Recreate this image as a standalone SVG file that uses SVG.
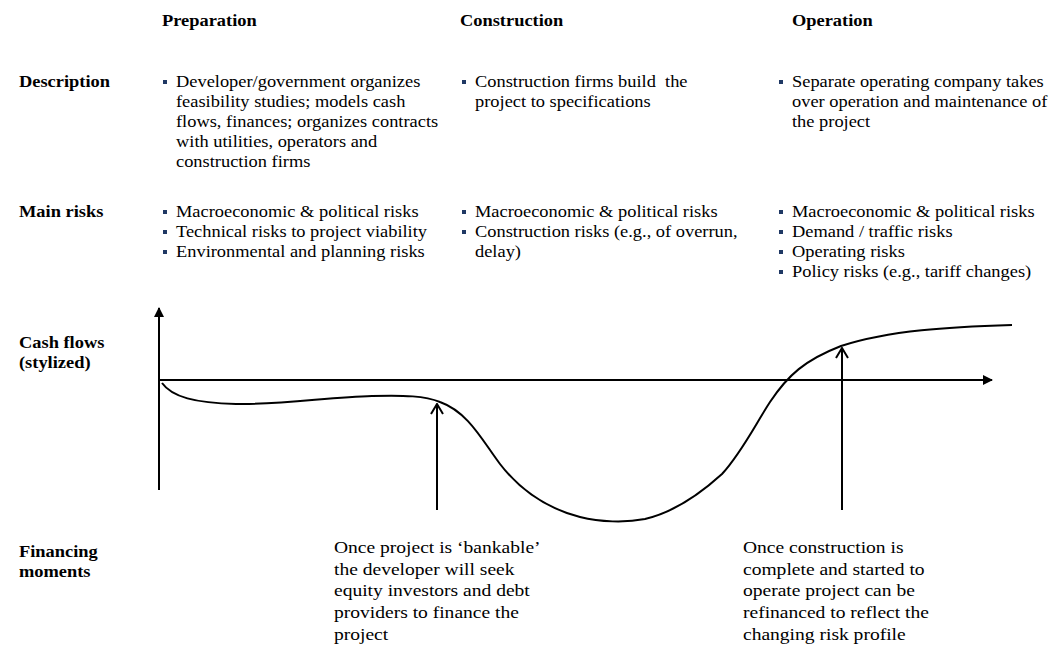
<svg xmlns="http://www.w3.org/2000/svg" width="1060" height="648" viewBox="0 0 1060 648">
<style>
text{font-family:"Liberation Serif","Times New Roman",serif;fill:#000}
.h{font-size:16px;font-weight:bold}
.t{font-size:16px}
.n{font-size:17px}
.bul{fill:#1F3864}
.ln{fill:none;stroke:#000;stroke-width:2}
</style>
<defs>
<marker id="tri" viewBox="0 0 10 10" refX="9" refY="5" markerWidth="5" markerHeight="5" orient="auto" markerUnits="strokeWidth">
<path d="M0,0 L10,5 L0,10 Z" fill="#000"/>
</marker>
<marker id="chev" viewBox="0 0 12 14" refX="11" refY="7" markerWidth="6" markerHeight="7" orient="auto" markerUnits="strokeWidth">
<path d="M1,1 L11,7 L1,13" fill="none" stroke="#000" stroke-width="2"/>
</marker>
</defs>
<rect width="1060" height="648" fill="#fff"/>

<g id="headers">
<text class="h" transform="translate(162,26) scale(1.15,1)">Preparation</text>
<text class="h" transform="translate(460,26) scale(1.15,1)">Construction</text>
<text class="h" transform="translate(792,26) scale(1.15,1)">Operation</text>
</g>

<g id="row-labels">
<text class="h" transform="translate(19,87) scale(1.15,1)">Description</text>
<text class="h" transform="translate(19,217) scale(1.15,1)">Main risks</text>
<text class="h" transform="translate(19,348) scale(1.15,1)"><tspan x="0">Cash flows</tspan><tspan x="0" dy="20">(stylized)</tspan></text>
<text class="h" transform="translate(19,557) scale(1.15,1)"><tspan x="0">Financing</tspan><tspan x="0" dy="20">moments</tspan></text>
</g>

<g id="desc-preparation">
<rect class="bul" x="163" y="80" width="4" height="4"/>
<text class="t" transform="translate(176,87) scale(1.15,1)"><tspan x="0">Developer/government organizes</tspan><tspan x="0" dy="20">feasibility studies; models cash</tspan><tspan x="0" dy="20">flows, finances; organizes contracts</tspan><tspan x="0" dy="20">with utilities, operators and</tspan><tspan x="0" dy="20">construction firms</tspan></text>
</g>
<g id="desc-construction">
<rect class="bul" x="462" y="80" width="4" height="4"/>
<text class="t" transform="translate(475,87) scale(1.15,1)"><tspan x="0" xml:space="preserve">Construction firms build  the</tspan><tspan x="0" dy="20">project to specifications</tspan></text>
</g>
<g id="desc-operation">
<rect class="bul" x="779" y="80" width="4" height="4"/>
<text class="t" transform="translate(792,87) scale(1.15,1)"><tspan x="0">Separate operating company takes</tspan><tspan x="0" dy="20">over operation and maintenance of</tspan><tspan x="0" dy="20">the project</tspan></text>
</g>

<g id="risks-preparation">
<rect class="bul" x="163" y="210" width="4" height="4"/>
<rect class="bul" x="163" y="230" width="4" height="4"/>
<rect class="bul" x="163" y="250" width="4" height="4"/>
<text class="t" transform="translate(176,217) scale(1.15,1)"><tspan x="0">Macroeconomic &amp; political risks</tspan><tspan x="0" dy="20">Technical risks to project viability</tspan><tspan x="0" dy="20">Environmental and planning risks</tspan></text>
</g>
<g id="risks-construction">
<rect class="bul" x="462" y="210" width="4" height="4"/>
<rect class="bul" x="462" y="230" width="4" height="4"/>
<text class="t" transform="translate(475,217) scale(1.15,1)"><tspan x="0">Macroeconomic &amp; political risks</tspan><tspan x="0" dy="20">Construction risks (e.g., of overrun,</tspan><tspan x="0" dy="20">delay)</tspan></text>
</g>
<g id="risks-operation">
<rect class="bul" x="779" y="210" width="4" height="4"/>
<rect class="bul" x="779" y="230" width="4" height="4"/>
<rect class="bul" x="779" y="250" width="4" height="4"/>
<rect class="bul" x="779" y="270" width="4" height="4"/>
<text class="t" transform="translate(792,217) scale(1.15,1)"><tspan x="0">Macroeconomic &amp; political risks</tspan><tspan x="0" dy="20">Demand / traffic risks</tspan><tspan x="0" dy="20">Operating risks</tspan><tspan x="0" dy="20">Policy risks (e.g., tariff changes)</tspan></text>
</g>

<g id="chart">
<path class="ln" d="M162,383 C172,397 195,403 236,404 C280,405 330,397 372,396 C405,395 425,396 440,402 C468,412 482,440 500,464 C520,490 545,508 580,517 C600,522 625,523 645,519 C675,512 700,494 722,474 C742,452 755,425 770,402 C788,375 805,360 841,346 C890,330 950,327 1012,325"/>
</g>

<g id="connectors">
<line class="ln" x1="159" y1="490" x2="159" y2="308" marker-end="url(#tri)"/>
<line class="ln" x1="158" y1="380" x2="992" y2="380" marker-end="url(#tri)"/>
<line class="ln" x1="437" y1="510" x2="437" y2="404" marker-end="url(#chev)"/>
<line class="ln" x1="842" y1="510" x2="842" y2="348" marker-end="url(#chev)"/>
</g>

<g id="note-bankable">
<text class="n" transform="translate(334,553) scale(1.15,1)"><tspan x="0">Once project is ‘bankable’</tspan><tspan x="0" dy="21.7">the developer will seek</tspan><tspan x="0" dy="21.7">equity investors and debt</tspan><tspan x="0" dy="21.7">providers to finance the</tspan><tspan x="0" dy="21.7">project</tspan></text>
</g>
<g id="note-refinance">
<text class="n" transform="translate(743,553) scale(1.15,1)"><tspan x="0">Once construction is</tspan><tspan x="0" dy="21.7">complete and started to</tspan><tspan x="0" dy="21.7">operate project can be</tspan><tspan x="0" dy="21.7">refinanced to reflect the</tspan><tspan x="0" dy="21.7">changing risk profile</tspan></text>
</g>
</svg>
